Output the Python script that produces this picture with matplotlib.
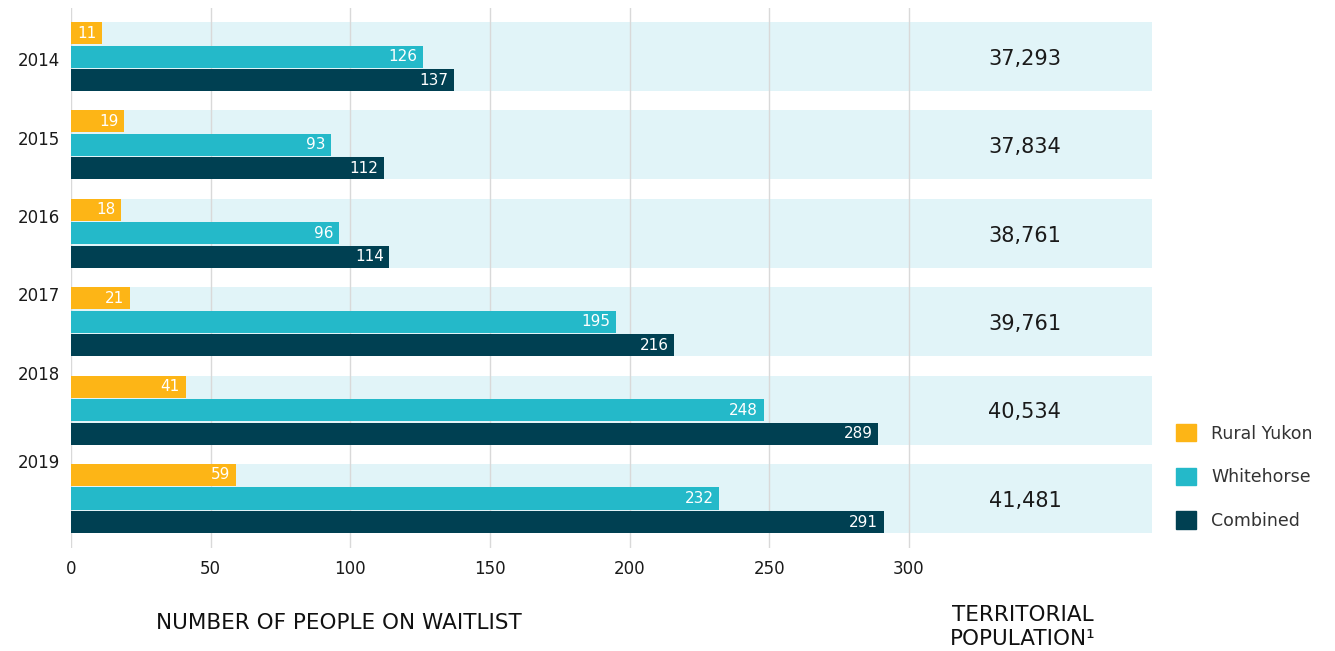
import numpy as np
import matplotlib
matplotlib.use("Agg")
import matplotlib.pyplot as plt
from matplotlib.patches import Patch

plt.rcParams['font.family'] = ['DejaVu Sans']

years = ['2014', '2015', '2016', '2017', '2018', '2019']
rural = [11, 19, 18, 21, 41, 59]
whitehorse = [126, 93, 96, 195, 248, 232]
combined = [137, 112, 114, 216, 289, 291]
population = ['37,293', '37,834', '38,761', '39,761', '40,534', '41,481']
series_names = ['Rural Yukon', 'Whitehorse', 'Combined']
xticks = [0, 50, 100, 150, 200, 250, 300]

c_rural = '#FDB516'
c_white = '#24B9C9'
c_comb = '#004052'
c_band = '#E1F4F8'

# year labels sit a bit off the group centres in the original
year_label_y = [0.05, 0.945, 1.83, 2.71, 3.60, 4.60]

fig = plt.figure(figsize=(13.35, 6.51), dpi=100)
ax = fig.add_axes([71/1335, 1 - 548/651, (1152-71)/1335, (548-8)/651])

bh = 0.249
off = 0.266
band_end = 387
y = np.arange(len(years))

ax.barh(y, band_end, height=0.78, color=c_band, zorder=1)
for xv in xticks:
    ax.axvline(xv, color='#d9d9d9', lw=1, zorder=2)

for vals, col, d in [(rural, c_rural, -off), (whitehorse, c_white, 0), (combined, c_comb, off)]:
    bars = ax.barh(y + d, vals, height=bh, color=col, zorder=3)
    for b, v in zip(bars, vals):
        ax.annotate(str(v), (v, b.get_y() + bh/2), xytext=(-4, 0), textcoords='offset points',
                    ha='right', va='center', color='white', fontsize=11, zorder=4)

for i, p in enumerate(population):
    ax.text(341.5, i + 0.025, p, ha='center', va='center', fontsize=15, color='#1a1a1a', zorder=4)

for yl, yr in zip(year_label_y, years):
    ax.text(-4, yl, yr, ha='right', va='center', fontsize=12, color='#1a1a1a')

ax.set_xlim(0, band_end)
ax.set_ylim(5.56, -0.549)
ax.set_yticks([])
ax.set_xticks(xticks)
ax.tick_params(axis='x', length=0, pad=9, labelsize=12, labelcolor='#1a1a1a')
for s in ax.spines.values():
    s.set_visible(False)

fig.text(339/1335, 1 - 623/651, 'NUMBER OF PEOPLE ON WAITLIST', ha='center', va='center',
         fontsize=15.5, color='#111111')
fig.text(1023/1335, 1 - 627/651, 'TERRITORIAL\nPOPULATION¹', ha='center', va='center',
         fontsize=15.5, color='#111111', linespacing=1.25)

handles = [Patch(color=c) for c in (c_rural, c_white, c_comb)]
fig.legend(handles, series_names, loc='center left', bbox_to_anchor=(1160/1335, 1 - 477/651),
           frameon=False, fontsize=12.5, handlelength=1.15, handleheight=1.15,
           labelspacing=1.45, handletextpad=0.9, labelcolor='#333333')

fig.savefig('out.png', dpi=100)
